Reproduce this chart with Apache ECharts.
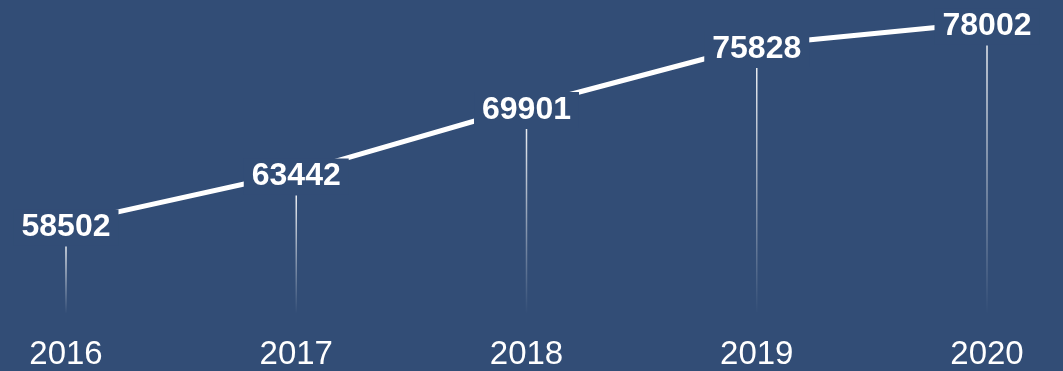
<!DOCTYPE html>
<html>
<head>
<meta charset="utf-8">
<style>
html,body{margin:0;padding:0;background:#324d76;}
#c{width:1063px;height:371px;}
</style>
<script src="https://cdn.jsdelivr.net/npm/echarts@6/dist/echarts.min.js"></script>
</head>
<body>
<div id="c"></div>
<script>
const categories = ['2016', '2017', '2018', '2019', '2020'];
const values = [58502, 63442, 69901, 75828, 78002];

const BG = '#324d76';
const chart = echarts.init(document.getElementById('c'));
chart.setOption({
  backgroundColor: BG,
  animation: false,
  grid: { left: 66, right: 76, top: 2, bottom: 59 },
  xAxis: {
    type: 'category',
    data: categories,
    boundaryGap: false,
    axisLine: { show: false },
    axisTick: { show: false },
    axisLabel: { color: '#ffffff', fontSize: 33, fontFamily: 'Liberation Sans, Arial, sans-serif', margin: 27 }
  },
  yAxis: {
    type: 'value',
    min: 50000,
    max: 80000,
    show: false,
    splitLine: { show: false }
  },
  series: [
    {
      type: 'custom',
      z: 1,
      data: values.map((v, i) => [i, v]),
      renderItem: function (params, api) {
        const p = api.coord([api.value(0), api.value(1)]);
        const base = api.coord([api.value(0), 50000]);
        return {
          type: 'line',
          shape: { x1: p[0], y1: p[1] + 23, x2: p[0], y2: base[1] + 2 },
          style: {
            lineWidth: 1.5,
            stroke: new echarts.graphic.LinearGradient(0, 0, 0, 1, [
              { offset: 0, color: 'rgba(255,255,255,0.9)' },
              { offset: 1, color: 'rgba(255,255,255,0)' }
            ])
          }
        };
      }
    },
    {
      type: 'line',
      z: 2,
      data: values,
      symbol: 'circle',
      symbolSize: 2,
      showSymbol: true,
      itemStyle: { color: BG },
      lineStyle: { color: '#ffffff', width: 5 },
      label: {
        show: true,
        position: 'inside',
        offset: [0, 4],
        color: '#ffffff',
        fontSize: 32,
        fontWeight: 'bold',
        fontFamily: 'Liberation Sans, Arial, sans-serif',
        backgroundColor: BG,
        padding: [2, 8]
      }
    }
  ]
});
</script>
</body>
</html>
